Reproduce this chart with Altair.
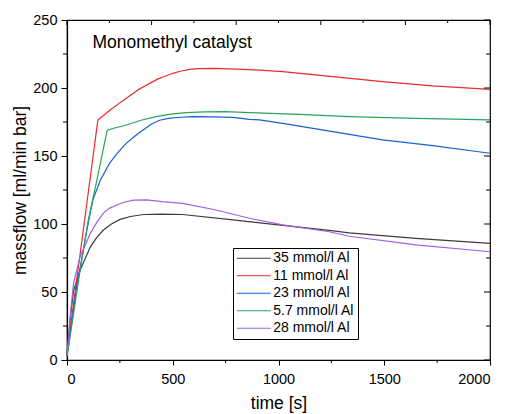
import altair as alt
import pandas as pd

FONT = "Liberation Sans, Arial, Helvetica, sans-serif"

series = ["35 mmol/l Al", "11 mmol/l Al", "23 mmol/l Al", "5.7 mmol/l Al", "28 mmol/l Al"]
colors = ["#3c3c3c", "#f0282a", "#1a5fd6", "#2aa35a", "#a05ee8"]

t_35 = [0, 15, 31, 62, 110, 140, 172, 210, 251, 300, 362, 450, 547, 784, 1020, 1240, 1335, 1650, 2000]
v_35 = [3, 30, 51, 66, 83, 90, 95.6, 100, 103.4, 105.5, 107, 107.3, 107, 103, 99, 95.3, 93.5, 89.5, 85.8]

t_11 = [0, 146, 210, 245, 280, 340, 375, 406, 430, 460, 500, 540, 579, 620, 700, 831, 910, 1020, 1256, 1492, 1729, 2000]
v_11 = [5, 176.5, 184.5, 188.5, 192.4, 199, 202, 204.7, 206.7, 208.5, 210.8, 212.5, 213.7, 214.2, 214.5, 213.7, 213.2, 212, 208.3, 204.7, 201.5, 199]

t_23 = [0, 7, 46, 94, 122, 157, 201, 240, 280, 320, 358, 400, 437, 480, 520, 595, 700, 784, 862, 910, 1020, 1256, 1492, 1729, 2000]
v_23 = [3, 9.8, 54, 95.6, 117.6, 132, 144.6, 152.5, 159.3, 164.5, 169, 173.5, 176.3, 177.6, 178.3, 178.9, 178.8, 178.4, 177, 176.5, 174, 167.9, 161.8, 157.6, 152]

t_57 = [0, 31, 62, 101, 141, 190, 230, 280, 350, 421, 490, 563, 650, 752, 862, 1099, 1335, 1650, 2000]
v_57 = [3, 34, 66, 103, 132, 169, 170.8, 172.8, 176.3, 178.9, 180.8, 181.9, 182.5, 182.6, 181.9, 180.6, 178.9, 177.7, 176.5]

t_28 = [0, 15, 31, 62, 110, 140, 172, 200, 235, 270, 314, 377, 450, 547, 705, 862, 1020, 1240, 1335, 1650, 2000]
v_28 = [3, 32, 56.6, 76, 93, 101, 108, 111.5, 114, 116, 117.6, 117.8, 116.5, 115.2, 110.3, 104.2, 99.3, 94.3, 91, 84.6, 79.6]

x_major = [0, 500, 1000, 1500, 2000]
x_minor = [250, 750, 1250, 1750]
top_major = [0, 400, 800, 1200, 1600, 2000]
top_minor = [200, 600, 1000, 1400, 1800]
y_major = [0, 50, 100, 150, 200, 250]
y_minor = [25, 75, 125, 175, 225]

annot_text = ["Monomethyl catalyst"]
annot_t = [120]
annot_v = [229.6]

W, H = 423, 340

rows = []
for name, ts, vs in zip(series, [t_35, t_11, t_23, t_57, t_28], [v_35, v_11, v_23, v_57, v_28]):
    for i, (t, v) in enumerate(zip(ts, vs)):
        rows.append({"series": name, "t": t, "v": v, "order": i})
df = pd.DataFrame(rows)
ann = pd.DataFrame({"label": annot_text, "t": annot_t, "v": annot_v})

xs = alt.Scale(domain=[0, 2000], nice=False, zero=False)
ys = alt.Scale(domain=[0, 250], nice=False, zero=False)

lines = alt.Chart(df).mark_line(strokeWidth=1.2).encode(
    x=alt.X("t:Q", scale=xs, axis=alt.Axis(
        orient="bottom", values=x_major, title="time [s]", tickSize=5, labelPadding=7, format="d",
        titleX=211.5, titleY=48, titleBaseline="alphabetic", titleAnchor="middle", titleAlign="center")),
    y=alt.Y("v:Q", scale=ys, axis=alt.Axis(
        orient="left", values=y_major, title="massflow [ml/min bar]", tickSize=6, labelPadding=4, format="d",
        titleX=-41.5, titleY=170, titleBaseline="alphabetic", titleAngle=270, titleAlign="center")),
    color=alt.Color("series:N", sort=series, scale=alt.Scale(domain=series, range=colors),
                    legend=alt.Legend(
                        orient="none", legendX=166, legendY=228, title=None,
                        strokeColor="black", fillColor="white", padding=3.25, cornerRadius=0,
                        symbolType="M-4,0H4", symbolSize=72, symbolStrokeWidth=1.2,
                        symbolOffset=10.5, labelOffset=12.5, rowPadding=3.5,
                        labelFont=FONT, labelFontSize=14, labelColor="black")),
    order="order:Q",
)

def xticks(vals, y0, y1):
    d = pd.DataFrame({"t": vals})
    return alt.Chart(d).mark_rule(color="black", strokeWidth=1, clip=False).encode(
        x=alt.X("t:Q", scale=xs), y=alt.value(y0), y2=alt.value(y1))

def yticks(vals, x0, x1):
    d = pd.DataFrame({"v": vals})
    return alt.Chart(d).mark_rule(color="black", strokeWidth=1, clip=False).encode(
        y=alt.Y("v:Q", scale=ys), x=alt.value(x0), x2=alt.value(x1))

tick_layers = [
    xticks(x_minor, H, H + 3),
    xticks(top_major, 0, 5),
    xticks(top_minor, 0, 3),
    yticks(y_minor, -4, 0),
    yticks(y_major, W - 6, W),
    yticks(y_minor, W - 4, W),
]

label = alt.Chart(ann).mark_text(align="left", baseline="alphabetic", font=FONT, fontSize=17.5, color="black").encode(
    x=alt.X("t:Q", scale=xs),
    y=alt.Y("v:Q", scale=ys),
    text="label:N",
)

chart = alt.layer(lines, *tick_layers, label).properties(
    width=W, height=H,
    autosize=alt.AutoSizeParams(type="none"),
    padding={"left": 67, "top": 20, "right": 17, "bottom": 54},
    background="white",
).configure_view(
    stroke="black", strokeWidth=1.2
).configure_axis(
    grid=False, domainColor="black", domainWidth=1.2, tickColor="black", tickWidth=1,
    labelFont=FONT, labelFontSize=14.5, labelColor="black",
    titleFont=FONT, titleFontSize=17.5, titleFontWeight="normal", titleColor="black",
)

chart.save("out.html", embed_options={"renderer": "svg", "actions": False})
